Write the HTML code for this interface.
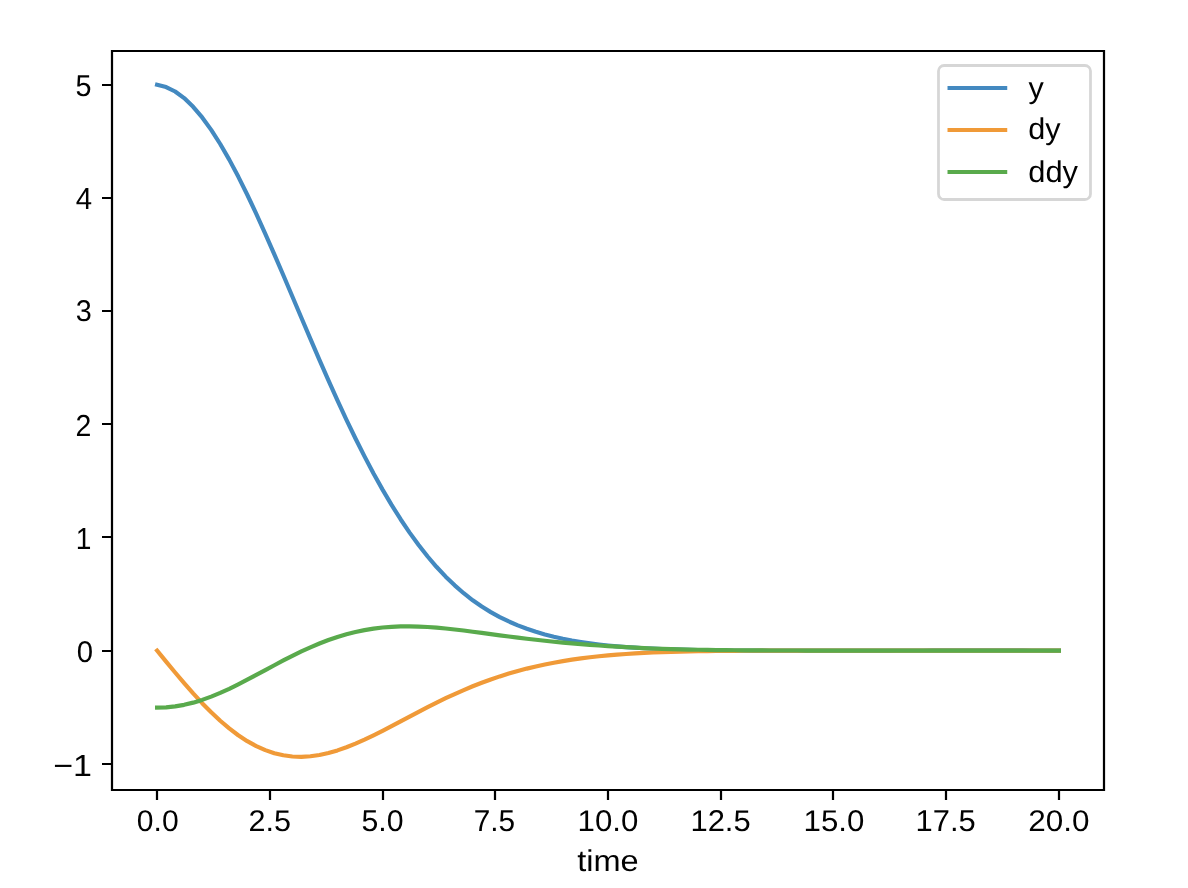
<!DOCTYPE html><html><head><meta charset="utf-8"><title>time plot</title><style>html,body{margin:0;padding:0;background:#fff;}svg{display:block;}text{font-family:"Liberation Sans",sans-serif;fill:#000;text-rendering:geometricPrecision;}.tx{opacity:0.999;will-change:transform;}</style></head><body>
<svg width="1188" height="888" viewBox="0 0 1188 888">
<rect x="0" y="0" width="1188" height="888" fill="#ffffff"/>
<defs><clipPath id="ax"><rect x="112" y="51.2" width="992" height="739.2"/></clipPath></defs>
<path d="M157 790V800M270 790V800M383 790V800M495 790V800M608 790V800M721 790V800M833 790V800M946 790V800M1059 790V800M112 764H102M112 651H102M112 537H102M112 424H102M112 311H102M112 198H102M112 85H102" stroke="#000" stroke-width="2.22" fill="none"/>
<g clip-path="url(#ax)" fill="none" stroke-width="4.17" stroke-linecap="square" stroke-linejoin="round" stroke-opacity="1">
<path d="M157.09 84.8 166.11 87.04 175.13 91.5 184.15 98.12 193.16 106.81 202.18 117.44 211.2 129.89 220.22 144 229.24 159.62 238.25 176.59 247.27 194.73 256.29 213.86 265.31 233.79 274.33 254.33 283.35 275.29 292.36 296.49 301.38 317.76 310.4 338.92 319.42 359.84 328.44 380.37 337.45 400.39 346.47 419.79 355.49 438.48 364.51 456.38 373.53 473.44 382.55 489.62 391.56 504.89 400.58 519.23 409.6 532.61 418.62 545.04 427.64 556.51 436.65 567.04 445.67 576.65 454.69 585.37 463.71 593.23 472.73 600.27 481.75 606.54 490.76 612.11 499.78 617.06 508.8 621.45 517.82 625.33 526.84 628.76 535.85 631.77 544.87 634.41 553.89 636.73 562.91 638.75 571.93 640.5 580.95 642.03 589.96 643.36 598.98 644.51 608 645.5 617.02 646.35 626.04 647.08 635.05 647.7 644.07 648.22 653.09 648.67 662.11 649.04 671.13 649.35 680.15 649.61 689.16 649.83 698.18 650.02 707.2 650.17 716.22 650.29 725.24 650.39 734.25 650.48 743.27 650.54 752.29 650.59 761.31 650.63 770.33 650.66 779.35 650.68 788.36 650.7 797.38 650.7 806.4 650.7 815.42 650.7 824.44 650.69 833.45 650.67 842.47 650.66 851.49 650.64 860.51 650.62 869.53 650.6 878.55 650.58 887.56 650.55 896.58 650.53 905.6 650.51 914.62 650.49 923.64 650.47 932.65 650.45 941.67 650.43 950.69 650.42 959.71 650.41 968.73 650.4 977.75 650.4 986.76 650.4 995.78 650.4 1004.8 650.41 1013.82 650.43 1022.84 650.45 1031.85 650.48 1040.87 650.52 1049.89 650.56 1058.91 650.61" stroke="#4389c0"/>
<path d="M157.09 650.58 166.11 661.62 175.13 672.52 184.15 683.17 193.16 693.43 202.18 703.18 211.2 712.33 220.22 720.78 229.24 728.44 238.25 735.25 247.27 741.16 256.29 746.13 265.31 750.14 274.33 753.2 283.35 755.3 292.36 756.49 301.38 756.8 310.4 756.28 319.42 754.99 328.44 753 337.45 750.39 346.47 747.23 355.49 743.61 364.51 739.6 373.53 735.3 382.55 730.77 391.56 726.09 400.58 721.33 409.6 716.55 418.62 711.8 427.64 707.14 436.65 702.6 445.67 698.23 454.69 694.04 463.71 690.05 472.73 686.29 481.75 682.76 490.76 679.46 499.78 676.4 508.8 673.58 517.82 670.98 526.84 668.6 535.85 666.44 544.87 664.47 553.89 662.7 562.91 661.11 571.93 659.68 580.95 658.41 589.96 657.28 598.98 656.29 608 655.42 617.02 654.66 626.04 654 635.05 653.43 644.07 652.94 653.09 652.52 662.11 652.17 671.13 651.87 680.15 651.63 689.16 651.42 698.18 651.25 707.2 651.12 716.22 651 725.24 650.91 734.25 650.84 743.27 650.78 752.29 650.74 761.31 650.7 770.33 650.67 779.35 650.65 788.36 650.63 797.38 650.62 806.4 650.61 815.42 650.6 824.44 650.6 833.45 650.59 842.47 650.59 851.49 650.59 860.51 650.59 869.53 650.58 878.55 650.58 887.56 650.58 896.58 650.58 905.6 650.58 914.62 650.58 923.64 650.58 932.65 650.58 941.67 650.58 950.69 650.58 959.71 650.58 968.73 650.58 977.75 650.58 986.76 650.58 995.78 650.58 1004.8 650.58 1013.82 650.58 1022.84 650.58 1031.85 650.58 1040.87 650.58 1049.89 650.58 1058.91 650.58" stroke="#f09a38"/>
<path d="M157.09 707.6 166.11 707.34 175.13 706.41 184.15 704.83 193.16 702.64 202.18 699.89 211.2 696.61 220.22 692.89 229.24 688.78 238.25 684.36 247.27 679.72 256.29 674.93 265.31 670.07 274.33 665.23 283.35 660.46 292.36 655.85 301.38 651.45 310.4 647.33 319.42 643.51 328.44 640.05 337.45 636.96 346.47 634.27 355.49 631.98 364.51 630.11 373.53 628.63 382.55 627.53 391.56 626.81 400.58 626.42 409.6 626.35 418.62 626.55 427.64 627 436.65 627.66 445.67 628.5 454.69 629.47 463.71 630.55 472.73 631.7 481.75 632.89 490.76 634.1 499.78 635.31 508.8 636.5 517.82 637.65 526.84 638.75 535.85 639.8 544.87 640.8 553.89 641.73 562.91 642.6 571.93 643.41 580.95 644.17 589.96 644.87 598.98 645.53 608 646.13 617.02 646.69 626.04 647.2 635.05 647.67 644.07 648.1 653.09 648.48 662.11 648.82 671.13 649.11 680.15 649.37 689.16 649.6 698.18 649.78 707.2 649.94 716.22 650.07 725.24 650.18 734.25 650.27 743.27 650.34 752.29 650.39 761.31 650.43 770.33 650.47 779.35 650.49 788.36 650.52 797.38 650.53 806.4 650.54 815.42 650.55 824.44 650.56 833.45 650.56 842.47 650.57 851.49 650.57 860.51 650.57 869.53 650.58 878.55 650.58 887.56 650.58 896.58 650.58 905.6 650.58 914.62 650.58 923.64 650.58 932.65 650.58 941.67 650.58 950.69 650.58 959.71 650.58 968.73 650.58 977.75 650.58 986.76 650.58 995.78 650.58 1004.8 650.58 1013.82 650.58 1022.84 650.58 1031.85 650.58 1040.87 650.58 1049.89 650.58 1058.91 650.58" stroke="#59aa4c"/>
</g>
<path d="M112 51V790H1104V51Z" stroke="#000" stroke-width="2.22" fill="none" stroke-linecap="square" stroke-linejoin="miter"/>
<rect x="938.5" y="65.5" width="152.0" height="134.0" rx="5.56" ry="5.56" fill="#fff" fill-opacity="0.8" stroke="#ccc" stroke-opacity="0.8" stroke-width="2.78"/>
<path d="M949.6 88H1005.15" stroke="#4389c0" stroke-opacity="1" stroke-width="4.17" stroke-linecap="square" fill="none"/>
<path d="M949.6 130H1005.15" stroke="#f09a38" stroke-opacity="1" stroke-width="4.17" stroke-linecap="square" fill="none"/>
<path d="M949.6 172H1005.15" stroke="#59aa4c" stroke-opacity="1" stroke-width="4.17" stroke-linecap="square" fill="none"/>
<g class="tx">
<text text-anchor="middle" font-size="29.5" transform="translate(157.71 831.28) scale(1.0200 1.0111)">0.0</text>
<text text-anchor="middle" font-size="29.5" transform="translate(269.78 831.27) scale(1.0364 1.0141)">2.5</text>
<text text-anchor="middle" font-size="29.5" transform="translate(382.46 831.28) scale(1.0267 1.0179)">5.0</text>
<text text-anchor="middle" font-size="29.5" transform="translate(494.43 831.27) scale(1.0099 1.0230)">7.5</text>
<text text-anchor="middle" font-size="29.5" transform="translate(607.92 831.27) scale(1.0584 1.0166)">10.0</text>
<text text-anchor="middle" font-size="29.5" transform="translate(720.53 831.31) scale(1.0492 1.0161)">12.5</text>
<text text-anchor="middle" font-size="29.5" transform="translate(833.9 831.27) scale(1.0589 1.0164)">15.0</text>
<text text-anchor="middle" font-size="29.5" transform="translate(945.6 831.3) scale(1.0483 1.0244)">17.5</text>
<text text-anchor="middle" font-size="29.5" transform="translate(1058.81 831.27) scale(1.0667 1.0094)">20.0</text>
<text text-anchor="middle" font-size="29.5" transform="translate(607.97 871.19) scale(1.1031 1.0134)">time</text>
<text text-anchor="end" font-size="29.5" transform="translate(91.99 776.4) scale(1.1532 1.0308)">−1</text>
<text text-anchor="end" font-size="29.5" transform="translate(93.01 662.14) scale(0.9949 1.0146)">0</text>
<text text-anchor="end" font-size="29.5" transform="translate(91.47 548.72) scale(0.9540 1.0312)">1</text>
<text text-anchor="end" font-size="29.5" transform="translate(91.41 436.38) scale(0.9661 1.0269)">2</text>
<text text-anchor="end" font-size="29.5" transform="translate(91.79 321.26) scale(0.9775 1.0156)">3</text>
<text text-anchor="end" font-size="29.5" transform="translate(92 208.74) scale(0.9970 1.0327)">4</text>
<text text-anchor="end" font-size="29.5" transform="translate(91.55 95.58) scale(0.9740 1.0181)">5</text>
<text text-anchor="start" font-size="29.5" transform="translate(1028.45 97.75) scale(1.0365 1.0147)">y</text>
<text text-anchor="start" font-size="29.5" transform="translate(1028.2 139.47) scale(1.0391 1.0198)">dy</text>
<text text-anchor="start" font-size="29.5" transform="translate(1028.28 182.02) scale(1.0462 1.0223)">ddy</text>
</g>
</svg></body></html>
